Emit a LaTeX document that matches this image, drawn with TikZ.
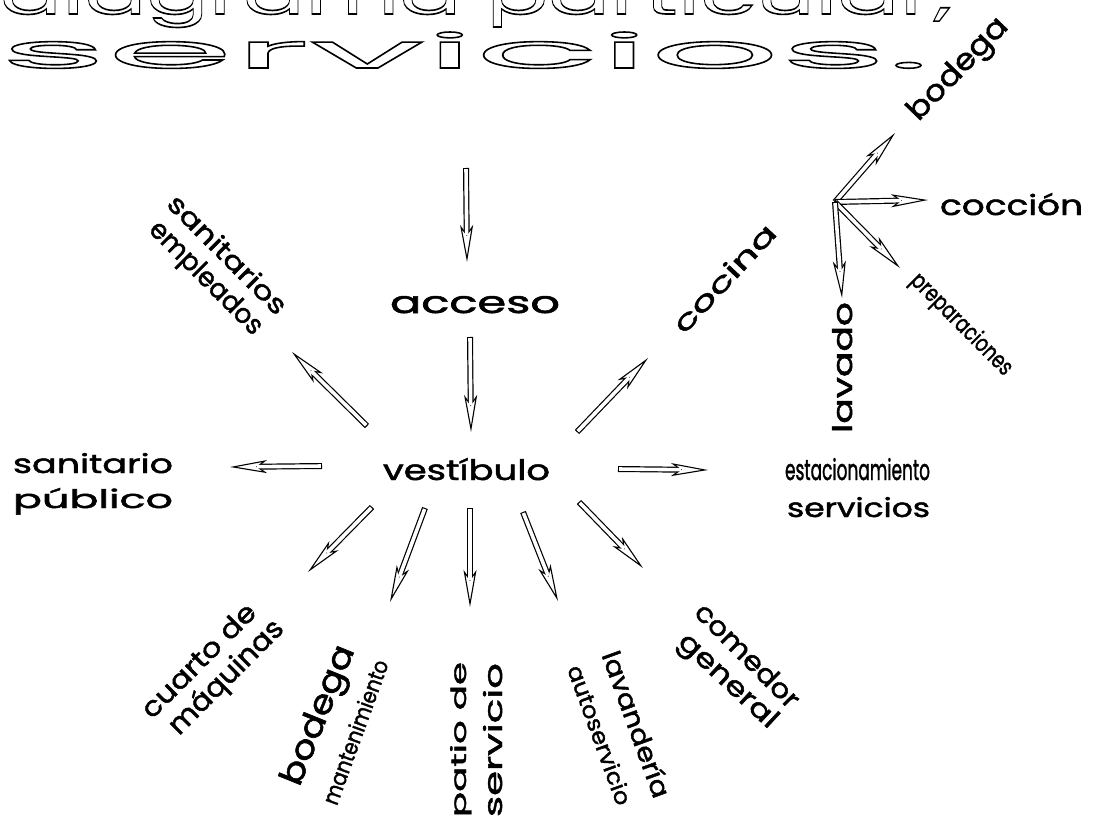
\documentclass[tikz,border=0pt]{standalone}
\usepackage{fontspec}
\usepackage{graphicx}
\setmainfont{Poppins}
\newfontfamily\pb{Poppins}[FakeBold=1.6]
\newfontfamily\ttlfont{Poppins}[FakeStretch=4]
\usetikzlibrary{arrows.meta,calc}
\newcommand{\wrd}[3]{\resizebox{#1pt}{#2pt}{\pb #3}}
\newcommand{\ttl}[3]{\resizebox{#1pt}{#2pt}{\ttlfont\fontsize{51}{51}\selectfont\special{pdf:literal direct 1 Tr 1.7 w}#3\special{pdf:literal direct 0 Tr}}}
\begin{document}
\begin{tikzpicture}[x=1pt,y=-1pt,
  lbl/.style={inner sep=0pt, outer sep=0pt, anchor=base west},
  rlbl/.style={inner sep=0pt, outer sep=0pt, anchor=center},
  harrow/.style={
    preaction={draw=black, line width=6pt, shorten <=0pt, shorten >=27pt},
    preaction={draw=black, line width=1.1pt, shorten <=0pt, shorten >=0pt,
      -{Stealth[length=37pt, width=13pt, inset=9pt, fill=white]}},
    draw=white, line width=3.6pt, shorten <=1.1pt, shorten >=27pt}]
\useasboundingbox (0,0) rectangle (1095,822);
\fill[white] (0,0) rectangle (1095,822);

% title (outlined)
\node[lbl] (ta) at (0,14) {\ttl{952}{38}{diagrama particular,}};
\node[lbl] (tb) at (0,68) {\ttl{930}{36}{servicios.}};

% horizontal labels
\node[lbl] (acceso) at (390,313) {\wrd{170}{17}{acceso}};
\node[lbl] (vest) at (383,480) {\wrd{167}{22}{vestíbulo}};
\node[lbl] (sanp1) at (13,473) {\wrd{160}{20}{sanitario}};
\node[lbl] (sanp2) at (13,508) {\wrd{160}{20}{público}};
\node[lbl] (est1) at (785,480) {\wrd{145}{22}{estacionamiento}};
\node[lbl] (est2) at (787,517) {\wrd{143}{20}{servicios}};
\node[lbl] (coccion) at (940,215) {\wrd{143}{22}{cocción}};

% rotated labels
\node[rlbl, rotate=47] (cocina) at (724,278) {\wrd{138}{20}{cocina}};
\node[rlbl, rotate=-45] (sane1) at (228,254) {\wrd{157}{20}{sanitarios}};
\node[rlbl, rotate=-45] (sane2) at (205,279) {\wrd{149}{20}{empleados}};
\node[rlbl, rotate=46] (bodega) at (959,70) {\wrd{131}{22}{bodega}};
\node[rlbl, rotate=-45] (prep) at (961,325) {\wrd{134}{18}{preparaciones}};
\node[lbl, rotate=90] (lavado) at (852,433) {\wrd{131}{20}{lavado}};
\node[rlbl, rotate=-45] (com1) at (748,655) {\wrd{136}{20}{comedor}};
\node[rlbl, rotate=-43] (com2) at (727,682) {\wrd{126}{20}{general}};
\node[rlbl, rotate=-70] (lav1) at (637,724) {\wrd{154}{20}{lavandería}};
\node[rlbl, rotate=-70] (lav2) at (600,735) {\wrd{147}{17}{autoservicio}};
\node[lbl, rotate=90] (pat1) at (466,817) {\wrd{155}{16}{patio de}};
\node[lbl, rotate=90] (pat2) at (502,817) {\wrd{154}{19}{servicio}};
\node[rlbl, rotate=68] (bod1) at (320,716) {\wrd{148}{24}{bodega}};
\node[rlbl, rotate=70] (bod2) at (355,732) {\wrd{152}{17}{mantenimiento}};
\node[rlbl, rotate=45] (cua1) at (198,660) {\wrd{150}{20}{cuarto de}};
\node[rlbl, rotate=45] (cua2) at (227,678) {\wrd{150}{22}{máquinas}};

% arrow end points
\coordinate (a1s) at (466,168); \coordinate (a1e) at (467,262);
\coordinate (a2s) at (470,337); \coordinate (a2e) at (471,432);
\coordinate (a3s) at (322,466); \coordinate (a3e) at (230,467);
\coordinate (a4s) at (618,469); \coordinate (a4e) at (708,470);
\coordinate (a5s) at (577,432); \coordinate (a5e) at (648,358);
\coordinate (a6s) at (367,426); \coordinate (a6e) at (292,352);
\coordinate (a7s) at (372,507); \coordinate (a7e) at (308,572);
\coordinate (a8s) at (425,508); \coordinate (a8e) at (390,602);
\coordinate (a9s) at (470,508); \coordinate (a9e) at (470,607);
\coordinate (a10s) at (523,512); \coordinate (a10e) at (558,601);
\coordinate (a11s) at (579,502); \coordinate (a11e) at (643,568);
\coordinate (hub) at (835,202);
\coordinate (b1e) at (895,133);
\coordinate (b2e) at (928,200);
\coordinate (b3e) at (900,268);
\coordinate (b4e) at (842,298);

\draw[harrow] (a1s) -- (a1e);
\draw[harrow] (a2s) -- (a2e);
\draw[harrow] (a3s) -- (a3e);
\draw[harrow] (a4s) -- (a4e);
\draw[harrow] (a5s) -- (a5e);
\draw[harrow] (a6s) -- (a6e);
\draw[harrow] (a7s) -- (a7e);
\draw[harrow] (a8s) -- (a8e);
\draw[harrow] (a9s) -- (a9e);
\draw[harrow] (a10s) -- (a10e);
\draw[harrow] (a11s) -- (a11e);
\draw[harrow] (hub) -- (b1e);
\draw[harrow] (hub) -- (b2e);
\draw[harrow] (hub) -- (b3e);
\draw[harrow] (hub) -- (b4e);
\end{tikzpicture}
\end{document}
